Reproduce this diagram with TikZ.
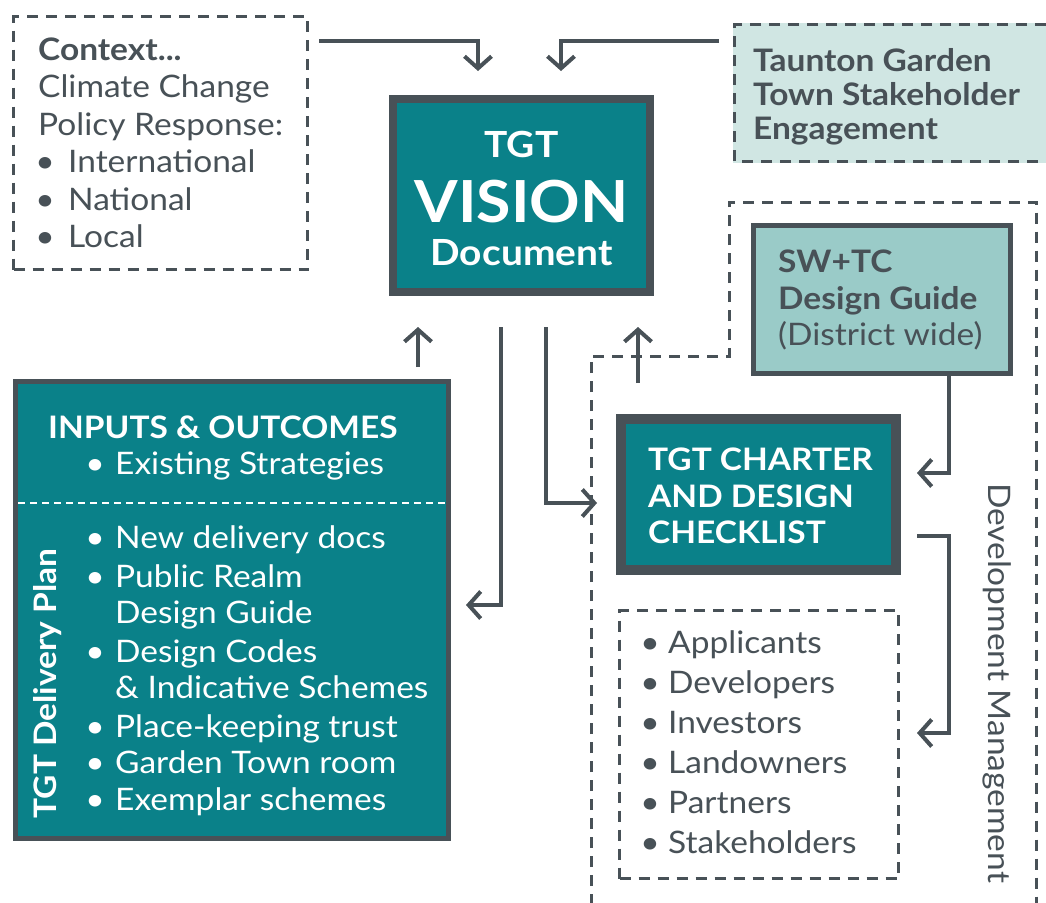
\documentclass[tikz,border=0pt]{standalone}
\usepackage{fontspec}
\setmainfont{Lato}[FakeStretch=1.08]
\usetikzlibrary{arrows.meta,calc}
\definecolor{teal}{RGB}{10,129,137}
\definecolor{dark}{RGB}{72,81,87}
\definecolor{lteal}{RGB}{154,203,200}
\definecolor{pale}{RGB}{208,230,227}
\begin{document}
\begin{tikzpicture}[x=1pt,y=-1pt,
  box/.style={draw=dark,rectangle,inner sep=0pt,minimum width=#1},
  dbox/.style={draw=dark,line width=3pt,dash pattern=on 11pt off 8pt},
  arr/.style={draw=dark,line width=4pt,-{Straight Barb[length=12pt,width=27pt,line width=4pt]}},
  conn/.style={draw=dark,line width=4pt},
  gtxt/.style={text=dark,inner sep=0pt,anchor=base west,font=\fontsize{31}{37}\selectfont},
  gbold/.style={gtxt,font=\fontsize{31}{37}\selectfont\bfseries},
  wtxt/.style={text=white,inner sep=0pt,anchor=base west,font=\fontsize{31}{37}\selectfont},
  wbold/.style={wtxt,font=\fontsize{31}{37}\selectfont\bfseries},
  bul/.style={inner sep=0pt,anchor=base,font=\fontsize{31}{37}\selectfont}
]
\useasboundingbox[fill=white] (0,0) rectangle (1046,902);

% development management region
\draw[dbox] (591,905) -- (591,356) -- (729,356) -- (729,202) -- (1036.5,202) -- (1036.5,905);
\node[text=dark,inner sep=0pt,rotate=-90,font=\fontsize{31}{37}\selectfont] (devm) at (997,683) {Development Management};

% context box
\node[dbox,rectangle,inner sep=0pt,minimum width=294pt,minimum height=253pt] (context) at (160.5,143) {};
\node[gbold] (ctx1) at (38,60) {Context...};
\node[gtxt] (ctx2) at (38,97) {Climate Change};
\node[gtxt] (ctx3) at (38,135) {Policy Response:};
\foreach \t/\yy [count=\i] in {International/172,National/210,Local/247}{
  \node[bul,text=dark] (cb\i) at (45,\yy) {•};
  \node[gtxt] (ci\i) at (68,\yy) {\t};
}

% Taunton box
\fill[pale] (733,23) rectangle (1046,163);
\draw[dbox] (1046,24.5) -- (734.5,24.5) -- (734.5,161.5) -- (1046,161.5);
\coordinate (taunton) at (734.5,24.5);
\node[gbold] (tn1) at (753,71) {Taunton Garden};
\node[gbold] (tn2) at (753,105) {Town Stakeholder};
\node[gbold] (tn3) at (753,139) {Engagement};

% Vision box
\node[box=257pt,line width=8pt,fill=teal,minimum height=193pt] (vision) at (521.5,195.5) {};
\node[text=white,inner sep=0pt,anchor=base,font=\fontsize{36}{40}\selectfont\bfseries] (v1) at (521.5,157) {TGT};
\node[text=white,inner sep=0pt,anchor=base,font=\fontsize{58}{60}\selectfont\bfseries] (v2) at (521.5,222) {VISION};
\node[text=white,inner sep=0pt,anchor=base,font=\fontsize{36}{40}\selectfont\bfseries] (v3) at (521.5,265) {Document};

% SW+TC box
\node[box=257pt,line width=5pt,fill=lteal,minimum height=148pt] (swtc) at (882,299.5) {};
\node[gbold] (s1) at (778,272) {SW+TC};
\node[gbold] (s2) at (778,309) {Design Guide};
\node[gtxt] (s3) at (778,345) {(District wide)};

% Charter box
\node[box=275pt,line width=10pt,fill=teal,minimum height=151pt] (charter) at (758.5,494.5) {};
\node[wbold] (c1) at (648,470) {TGT CHARTER};
\node[wbold] (c2) at (648,507) {AND DESIGN};
\node[wbold] (c3) at (648,543) {CHECKLIST};

% list box
\node[dbox,rectangle,inner sep=0pt,minimum width=279pt,minimum height=268pt] (list) at (759,744.5) {};
\foreach \t/\yy [count=\i] in {Applicants/653,Developers/693,Investors/733,Landowners/773,Partners/813,Stakeholders/853}{
  \node[bul,text=dark] (lb\i) at (650,\yy) {•};
  \node[gtxt] (li\i) at (668,\yy) {\t};
}

% Plan box
\node[box=433pt,line width=5pt,fill=teal,minimum height=457pt] (plan) at (232,610) {};
\draw[white,line width=2pt,dash pattern=on 7pt off 5pt] (18,503) -- (446,503);
\node[wbold] (p0) at (48,438) {INPUTS \& OUTCOMES};
\node[bul,text=white] (pb0) at (95,474) {•};
\node[wtxt] (pi0) at (115,474) {Existing Strategies};
\foreach \t/\yy [count=\i] in {New delivery docs/548,Public Realm/587,Design Codes/662,Place-keeping trust/737,Garden Town room/773,Exemplar schemes/810}{
  \node[bul,text=white] (pb\i) at (95,\yy) {•};
  \node[wtxt] (pi\i) at (115,\yy) {\t};
}
\node[wtxt] (pc1) at (115,623) {Design Guide};
\node[wtxt] (pc2) at (115,698) {\& Indicative Schemes};
\node[text=white,inner sep=0pt,rotate=90,font=\fontsize{31}{37}\selectfont\bfseries] (dplan) at (48,683.5) {TGT Delivery Plan};

% connectors
\coordinate (vgap) at ($(vision.south)+(0,31)$);
\draw[arr] ($(context.north east)+(10,26)$) -| ($(vision.north)+(-43.5,-24)$);
\draw[arr] ($(taunton)+(-15.5,16.5)$) -| ($(vision.north)+(39.5,-24)$);
\coordinate (a3) at ($(plan.north east)+(-33,-12)$);
\draw[arr] (a3) -- (a3 |- vgap);
\draw[arr] ($(vgap)+(-20.5,0)$) |- ($(plan.east)+(15,-5)$);
\draw[arr] ($(vgap)+(24.5,0)$) |- ($(charter.west)+(-19,8.5)$);
\coordinate (a6) at ($(charter.north west)+(22,-31)$);
\draw[arr] (a6) -- (a6 |- vgap);
\draw[arr] ($(swtc.south east)+(-64,0)$) |- ($(charter.north east)+(16,59)$);
\draw[arr] ($(charter.east)+(16,41.5)$) -- ++(32,0) |- ($(list.east)+(17,-11.5)$);
\end{tikzpicture}
\end{document}
